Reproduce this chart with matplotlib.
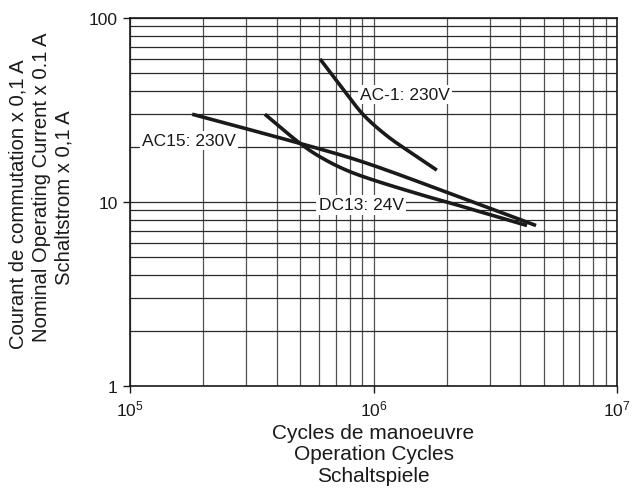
import matplotlib
matplotlib.use("Agg")
import matplotlib.pyplot as plt
import numpy as np

plt.rcParams['font.family'] = ['Liberation Sans', 'DejaVu Sans']
plt.rcParams['mathtext.fontset'] = 'custom'
plt.rcParams['mathtext.rm'] = 'Liberation Sans'
plt.rcParams['mathtext.it'] = 'Liberation Sans'

# Data
ac1_x = [6.03e5, 7.50e5, 9.06e5, 1.135e6, 1.41e6, 1.82e6]
ac1_y = [59.9, 41.1, 29.9, 22.9, 18.7, 14.9]

ac15_x = [1.8e5, 5.0e5, 8.81e5, 2.0e6, 4.65e6]
ac15_y = [30, 20.8, 16.7, 11.3, 7.45]

dc13_x = [3.58e5, 5.0e5, 6.03e5, 8.02e5, 1.55e6, 2.0e6, 4.27e6]
dc13_y = [30, 20.8, 17.6, 14.6, 11.0, 10.0, 7.45]

labels = ["AC-1: 230V", "AC15: 230V", "DC13: 24V"]
label_x = [1.35e6, 1.74e5, 8.89e5]
label_y = [38.2, 21.5, 9.64]

xlabel_lines = ["Cycles de manoeuvre", "Operation Cycles", "Schaltspiele"]
ylabel_lines = ["Courant de commutation x 0,1 A",
                "Nominal Operating Current x 0.1 A",
                "Schaltstrom x 0,1 A"]

W, H = 635, 489
fig = plt.figure(figsize=(W/100, H/100), dpi=100)
ax = fig.add_axes([130/W, 1-387/H, 487/W, 368/H])
ax.set_xscale('log')
ax.set_yscale('log')
ax.set_xlim(1e5, 1e7)
ax.set_ylim(1, 100)

ax.xaxis.grid(True, which='both', color='#505050', linewidth=0.9, zorder=1)
ax.yaxis.grid(True, which='both', color='#2a2a2a', linewidth=0.9, zorder=1)
ax.set_axisbelow(True)


def catmull_rom(px, py, n=40, alpha=0.5):
    P = np.column_stack([px, py])
    P = np.vstack([2*P[0]-P[1], P, 2*P[-1]-P[-2]])
    out = []
    for i in range(1, len(P)-2):
        p0, p1, p2, p3 = P[i-1], P[i], P[i+1], P[i+2]
        t0 = 0.0
        t1 = t0 + np.linalg.norm(p1-p0)**alpha
        t2 = t1 + np.linalg.norm(p2-p1)**alpha
        t3 = t2 + np.linalg.norm(p3-p2)**alpha
        t = np.linspace(t1, t2, n)[:, None]
        A1 = (t1-t)/(t1-t0)*p0 + (t-t0)/(t1-t0)*p1
        A2 = (t2-t)/(t2-t1)*p1 + (t-t1)/(t2-t1)*p2
        A3 = (t3-t)/(t3-t2)*p2 + (t-t2)/(t3-t2)*p3
        B1 = (t2-t)/(t2-t0)*A1 + (t-t0)/(t2-t0)*A2
        B2 = (t3-t)/(t3-t1)*A2 + (t-t1)/(t3-t1)*A3
        C = (t2-t)/(t2-t1)*B1 + (t-t1)/(t2-t1)*B2
        out.append(C if i == len(P)-3 else C[:-1])
    C = np.vstack(out)
    return C[:, 0], C[:, 1]


for xs, ys in [(ac1_x, ac1_y), (ac15_x, ac15_y), (dc13_x, dc13_y)]:
    # spline in log-log space (axis scale is log on both axes)
    lx, ly = catmull_rom(np.log10(xs) * 1.323, np.log10(ys))
    ax.plot(10**(lx/1.323), 10**ly, color='#1a1a1a', linewidth=2.6,
            solid_capstyle='butt', zorder=4)

for s, x, y in zip(labels, label_x, label_y):
    ax.text(x, y, s, ha='center', va='center', fontsize=12.5, color='#1a1a1a',
            bbox=dict(facecolor='white', edgecolor='none', pad=1.5), zorder=3)

ax.set_yticks([1, 10, 100])
ax.set_yticklabels(['1', '10', '100'])
ax.tick_params(axis='both', which='major', labelsize=12.5, length=5, width=1,
               pad=4, color='#1a1a1a', labelcolor='#1a1a1a')
ax.tick_params(axis='both', which='minor', length=0)
ax.yaxis.set_minor_formatter(matplotlib.ticker.NullFormatter())
ax.xaxis.set_minor_formatter(matplotlib.ticker.NullFormatter())
for sp in ax.spines.values():
    sp.set_linewidth(1.2)
    sp.set_color('#1a1a1a')

# axis titles, one line each (pixel positions of baselines)
xc = (130 + 617) / 2
for s, yb in zip(xlabel_lines, [439, 460.5, 482]):
    fig.text(xc/W, 1-yb/H, s, ha='center', va='baseline', fontsize=15, color='#1a1a1a')

for s, xb, yc in zip(ylabel_lines, [23.5, 46.7, 70], [204, 187.5, 197.5]):
    fig.text(xb/W, 1-yc/H, s, ha='center', va='baseline', rotation=90,
             rotation_mode='anchor', fontsize=14.6, color='#1a1a1a')

fig.savefig('out.png', dpi=100)
